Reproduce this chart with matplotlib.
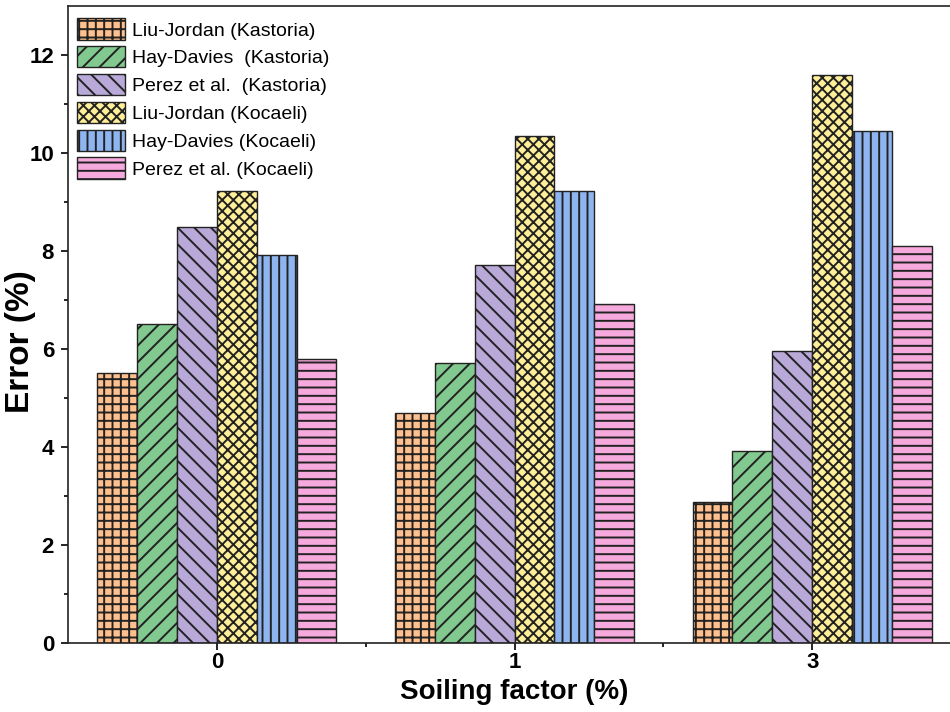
import numpy as np
import matplotlib
matplotlib.use("Agg")
import matplotlib.pyplot as plt

plt.rcParams['font.family'] = ['Liberation Sans', 'DejaVu Sans']
plt.rcParams['hatch.linewidth'] = 1.4
plt.rcParams['hatch.color'] = 'black'

# Soiling factor groups and error of each transposition model (%)
soiling = ['0', '1', '3']
series_labels = [
    'Liu-Jordan (Kastoria)',
    'Hay-Davies  (Kastoria)',
    'Perez et al.  (Kastoria)',
    'Liu-Jordan (Kocaeli)',
    'Hay-Davies (Kocaeli)',
    'Perez et al. (Kocaeli)',
]
liu_jordan_kastoria = [5.52, 4.69, 2.87]
hay_davies_kastoria = [6.52, 5.72, 3.91]
perez_kastoria = [8.50, 7.71, 5.96]
liu_jordan_kocaeli = [9.23, 10.35, 11.59]
hay_davies_kocaeli = [7.92, 9.22, 10.45]
perez_kocaeli = [5.79, 6.91, 8.11]

series = [liu_jordan_kastoria, hay_davies_kastoria, perez_kastoria,
          liu_jordan_kocaeli, hay_davies_kocaeli, perez_kocaeli]
colors = ['#FFC08E', '#82C98F', '#B9A9D9', '#FFEF98', '#8FB5F0', '#F6A9DC']
hatches = ['++', '//', '\\\\', 'xxx', '||', '--']

fig = plt.figure(figsize=(9.5, 7.12), dpi=100)
ax = fig.add_axes([68 / 950, 1 - 643 / 712, 893 / 950, 637 / 712])

x = np.arange(len(soiling))
width = 0.134
n = len(series)
for i, (vals, lab, c, h) in enumerate(zip(series, series_labels, colors, hatches)):
    offs = (i - (n - 1) / 2) * width
    ax.bar(x + offs, vals, width, color=c, edgecolor='#222222', linewidth=1.0,
           hatch=h, label=lab, zorder=2)

ax.set_xlim(-0.5, 2.5)
ax.set_ylim(0, 13)
ax.set_xticks(x)
ax.set_xticklabels(soiling)
ax.set_xticks([0.5, 1.5], minor=True)
ax.set_yticks(np.arange(0, 13, 2))
ax.set_yticks(np.arange(1, 13, 2), minor=True)

ax.tick_params(axis='both', which='major', direction='out', length=5, width=1.2,
               labelsize=16)
ax.tick_params(axis='y', which='major', pad=5)
ax.tick_params(axis='x', which='major', pad=1.5)
ax.tick_params(axis='both', which='minor', direction='out', length=3, width=1.2)
for lbl in ax.get_xticklabels() + ax.get_yticklabels():
    lbl.set_fontweight('bold')

for sp in ax.spines.values():
    sp.set_linewidth(1.2)
    sp.set_color('#222222')

ax.set_xlabel('Soiling factor (%)', fontsize=20, fontweight='bold')
ax.xaxis.set_label_coords(0.5, -0.057)
ax.set_ylabel('Error (%)', fontsize=24, fontweight='bold')
ax.yaxis.set_label_coords(-0.036, 0.4725)

leg = ax.legend(loc='upper left', bbox_to_anchor=(0.0, 0.9945), frameon=False,
                prop={'size': 14}, handlelength=2.47, handleheight=1.3,
                labelspacing=0.34, handletextpad=0.35, borderpad=0.46,
                borderaxespad=0.0)

fig.savefig('out.png', dpi=100)
